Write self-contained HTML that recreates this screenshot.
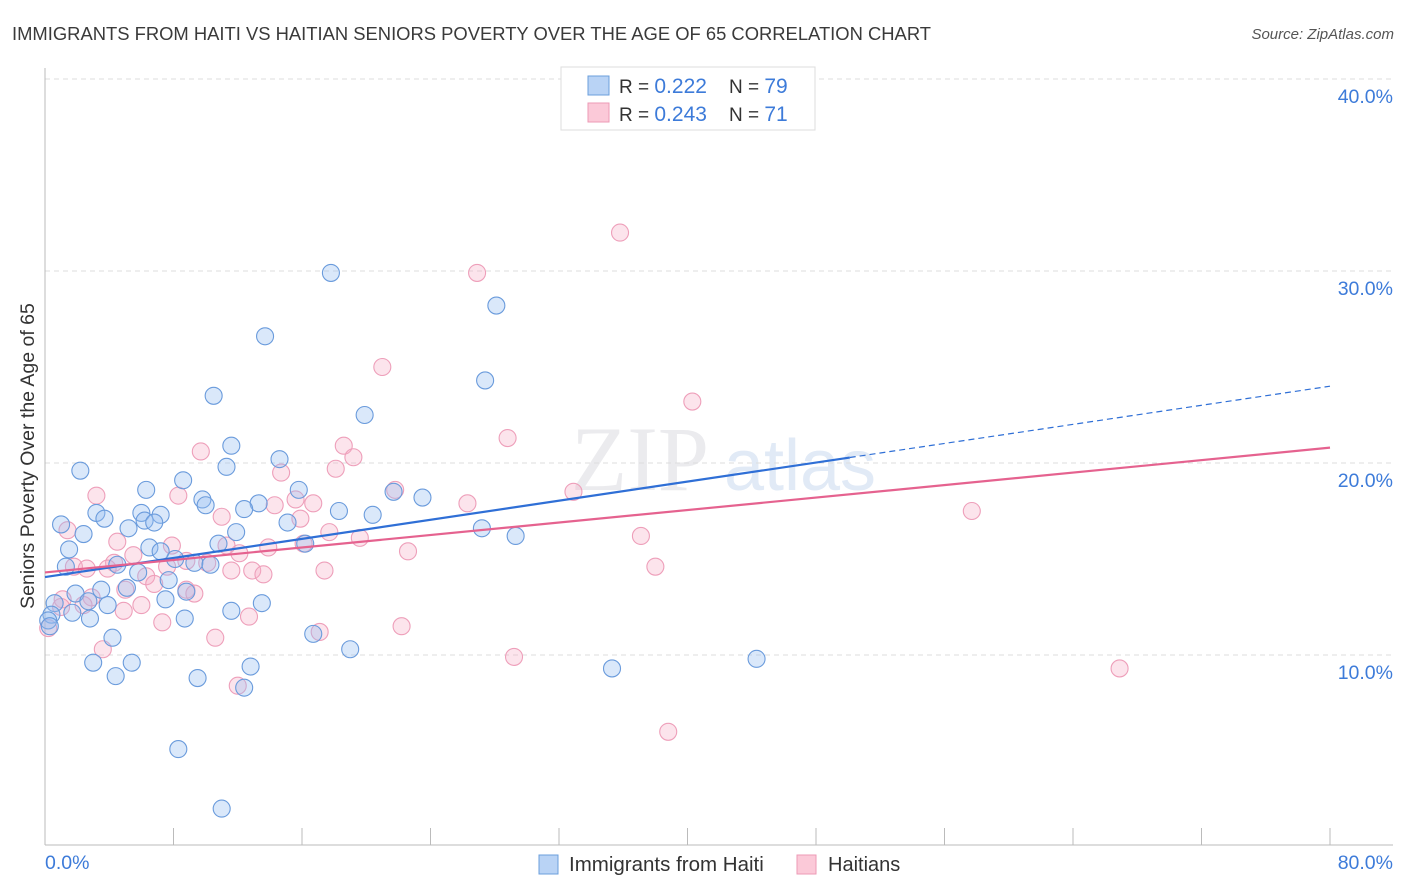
<!DOCTYPE html>
<html><head><meta charset="utf-8"><style>
body{margin:0;background:#fff;width:1406px;height:892px;overflow:hidden;font-family:"Liberation Sans",sans-serif}
svg{position:absolute;left:0;top:0}
</style></head><body>
<svg id="c" width="1406" height="892">
<text x="12" y="40" font-size="18.4" fill="#3a3a3a">IMMIGRANTS FROM HAITI VS HAITIAN SENIORS POVERTY OVER THE AGE OF 65 CORRELATION CHART</text>
<text x="1394" y="39" font-size="15" font-style="italic" fill="#555" text-anchor="end">Source: ZipAtlas.com</text>
<text x="640" y="490" font-size="92" fill="#ebebee" font-family="Liberation Serif,serif" text-anchor="middle">ZIP</text>
<text x="800" y="490" font-size="72" fill="#e1eaf6" text-anchor="middle">atlas</text>
<g id="grid"></g><g id="axes"></g><g id="pink"></g><g id="blue"></g><g id="trend"></g>
<text transform="translate(34,456) rotate(-90)" font-size="19.5" fill="#333" text-anchor="middle">Seniors Poverty Over the Age of 65</text>
<text x="45" y="869" font-size="19.5" fill="#3d7bd9">0.0%</text>
<text x="1393" y="869" font-size="19.5" fill="#3d7bd9" text-anchor="end">80.0%</text>
<g>
<rect x="561" y="67" width="254" height="63" fill="#fff" stroke="#ddd"/>
<rect x="588" y="76" width="21" height="19" fill="#b9d3f5" stroke="#6b9fdc"/>
<rect x="588" y="103" width="21" height="19" fill="#fbc9d8" stroke="#ec9ab6"/>
<text x="619" y="93" font-size="19" fill="#333">R = <tspan fill="#3d7bd9" font-size="21">0.222</tspan><tspan x="729">N = </tspan><tspan fill="#3d7bd9" font-size="21">79</tspan></text>
<text x="619" y="121" font-size="19" fill="#333">R = <tspan fill="#3d7bd9" font-size="21">0.243</tspan><tspan x="729">N = </tspan><tspan fill="#3d7bd9" font-size="21"> 71</tspan></text>
</g>
<g>
<rect x="539" y="855" width="19" height="19" fill="#b9d3f5" stroke="#6b9fdc"/>
<text x="569" y="871" font-size="20.5" fill="#333">Immigrants from Haiti</text>
<rect x="797" y="855" width="19" height="19" fill="#fbc9d8" stroke="#ec9ab6"/>
<text x="828" y="871" font-size="20" fill="#333">Haitians</text>
</g>
</svg>
<script>
const yTicks=[10,20,30,40];
const yTickLabels=["10.0%","20.0%","30.0%","40.0%"];
const xTicks=[0,8,16,24,32,40,48,56,64,72,80];
const blueX=[17.8,28.1,13.7,27.4,10.5,19.9,11.6,14.6,2.2,11.3,8.6,6.3,15.8,21.7,23.5,9.8,13.3,12.4,18.3,20.4,3.2,6.0,7.2,3.7,1.0,6.2,6.8,5.2,15.1,11.9,27.2,29.3,2.4,1.5,6.5,7.2,10.8,16.2,8.1,9.3,10.3,4.5,1.3,5.8,7.7,5.1,3.5,1.9,8.8,7.5,13.5,0.6,2.7,3.9,11.6,1.7,8.7,2.8,0.4,0.2,4.2,16.7,19.0,3.0,5.4,12.8,35.3,44.3,4.4,9.5,12.4,8.3,11.0,0.3,10.0];
const blueY=[29.9,28.2,26.6,24.3,23.5,22.5,20.9,20.2,19.6,19.8,19.1,18.6,18.6,18.5,18.2,18.1,17.9,17.6,17.5,17.3,17.4,17.4,17.3,17.1,16.8,17.0,16.9,16.6,16.9,16.4,16.6,16.2,16.3,15.5,15.6,15.4,15.8,15.8,15.0,14.8,14.7,14.7,14.6,14.3,13.9,13.5,13.4,13.2,13.3,12.9,12.7,12.7,12.8,12.6,12.3,12.2,11.9,11.9,12.1,11.8,10.9,11.1,10.3,9.6,9.6,9.4,9.3,9.8,8.9,8.8,8.3,5.1,2.0,11.5,17.8];
const pinkX=[35.8,26.9,21.0,40.3,28.8,18.6,9.7,19.2,18.1,14.7,21.8,3.2,8.3,32.9,15.6,16.7,26.3,14.3,57.7,11.0,15.9,1.4,17.7,19.6,37.1,4.5,7.9,11.3,13.9,16.1,22.6,12.1,5.5,8.8,10.1,1.8,7.6,4.3,38.0,2.6,3.9,11.6,12.9,17.4,13.6,6.3,6.8,8.8,5.0,9.3,2.9,1.1,6.0,2.4,4.9,12.7,7.3,22.2,17.1,10.6,3.6,29.2,66.9,12.0,38.8,0.2,1.0];
const pinkY=[32.0,29.9,25.0,23.2,21.3,20.9,20.6,20.3,19.7,19.5,18.6,18.3,18.3,18.5,18.1,17.9,17.9,17.8,17.5,17.2,17.1,16.5,16.4,16.1,16.2,15.9,15.7,15.7,15.6,15.8,15.4,15.3,15.2,14.9,14.8,14.6,14.6,14.8,14.6,14.5,14.5,14.4,14.4,14.4,14.2,14.1,13.7,13.4,13.4,13.2,13.0,12.9,12.6,12.6,12.3,12.0,11.7,11.5,11.2,10.9,10.3,9.9,9.3,8.4,6.0,11.4,12.5];
const blueTrend=[14.06,24.0];
const pinkTrend=[14.3,20.8];
const blueSolidEnd=50.1;
const NS="http://www.w3.org/2000/svg";
function sx(v){return 45+v*16.0625;}
function sy(v){return 847-v*19.2;}
function mk(tag,attrs,parent){const e=document.createElementNS(NS,tag);for(const k in attrs)e.setAttribute(k,attrs[k]);document.getElementById(parent).appendChild(e);return e;}
yTicks.forEach((t,i)=>{
 const l=mk('line',{x1:45,x2:1393,y1:sy(t),y2:sy(t),stroke:'#ddd','stroke-dasharray':'5,4'},'grid');
 
 
 const tx=mk('text',{x:1393,y:sy(t)+24,'font-size':19.5,fill:'#3d7bd9','text-anchor':'end'},'grid');
 tx.textContent=yTickLabels[i];
 
 
});
const ya=mk('line',{x1:45,x2:45,y1:68,y2:845,stroke:'#bbb'},'axes');


const xa=mk('line',{x1:45,x2:1393,y1:845,y2:845,stroke:'#bbb'},'axes');


xTicks.forEach(t=>{
 const l=mk('line',{x1:sx(t),x2:sx(t),y1:828,y2:845,stroke:'#bbb'},'axes');
 
 
});
pinkX.forEach((x,i)=>{
 const c=mk('circle',{cx:sx(x),cy:sy(pinkY[i]),r:8.5,fill:'rgba(246,170,196,0.32)',stroke:'#ee9fba','stroke-width':1.1},'pink');
 
 
});
blueX.forEach((x,i)=>{
 const c=mk('circle',{cx:sx(x),cy:sy(blueY[i]),r:8.5,fill:'rgba(150,190,240,0.35)',stroke:'#6a9bdc','stroke-width':1.1},'blue');
 
 
});
function ty(tr,x){return tr[0]+(tr[1]-tr[0])*x/80;}
const bl=mk('line',{x1:sx(0),y1:sy(ty(blueTrend,0)),x2:sx(blueSolidEnd),y2:sy(ty(blueTrend,blueSolidEnd)),stroke:'#2f6fd6','stroke-width':2.2},'trend');


const bd=mk('line',{x1:sx(blueSolidEnd),y1:sy(ty(blueTrend,blueSolidEnd)),x2:sx(80),y2:sy(ty(blueTrend,80)),stroke:'#2f6fd6','stroke-width':1.2,'stroke-dasharray':'6,4'},'trend');


const pl=mk('line',{x1:sx(0),y1:sy(ty(pinkTrend,0)),x2:sx(80),y2:sy(ty(pinkTrend,80)),stroke:'#e5628f','stroke-width':2.2},'trend');


</script>
</body></html>
